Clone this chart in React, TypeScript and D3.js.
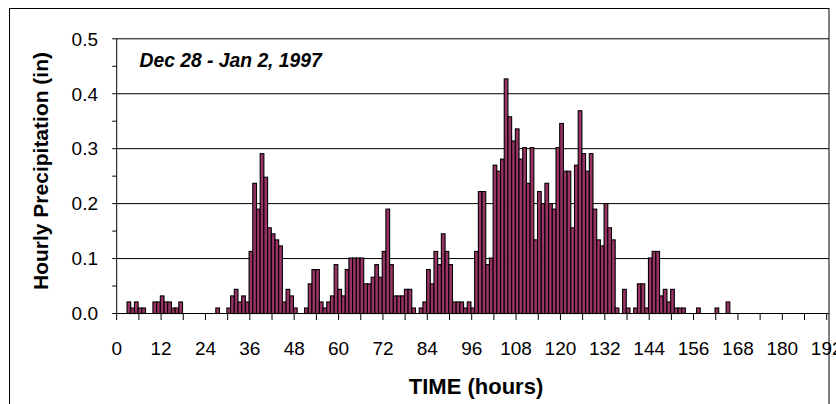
import React from "react";
import * as d3 from "d3";

const hours: number[] = [
  3, 4, 5, 6, 7, 10, 11, 12, 13, 14, 15, 16, 17, 27, 30, 31, 32, 33, 34, 35,
  36, 37, 38, 39, 40, 41, 42, 43, 44, 45, 46, 47, 48, 51, 52, 53, 54, 55, 56, 57,
  58, 59, 60, 61, 62, 63, 64, 65, 66, 67, 68, 69, 70, 71, 72, 73, 74, 75, 76, 77,
  78, 79, 80, 82, 83, 84, 85, 86, 87, 88, 89, 90, 91, 92, 93, 94, 95, 96, 97, 98,
  99, 100, 101, 102, 103, 104, 105, 106, 107, 108, 109, 110, 111, 112, 113, 114, 115, 116, 117, 118,
  119, 120, 121, 122, 123, 124, 125, 126, 127, 128, 129, 130, 131, 132, 133, 134, 135, 137, 138, 140,
  141, 142, 143, 144, 145, 146, 147, 148, 149, 150, 151, 152, 153, 157, 162, 165,
];

const precip: number[] = [
  0.021, 0.01, 0.021, 0.01, 0.01, 0.021, 0.021, 0.032, 0.021, 0.021, 0.01, 0.01, 0.021, 0.01, 0.01, 0.032, 0.044, 0.021, 0.032, 0.021,
  0.113, 0.237, 0.19, 0.291, 0.248, 0.156, 0.145, 0.134, 0.123, 0.021, 0.044, 0.032, 0.01, 0.01, 0.054, 0.08, 0.08, 0.021, 0.01, 0.021,
  0.032, 0.089, 0.044, 0.032, 0.08, 0.101, 0.101, 0.101, 0.101, 0.054, 0.054, 0.066, 0.089, 0.066, 0.113, 0.19, 0.089, 0.032, 0.032, 0.032,
  0.044, 0.044, 0.01, 0.01, 0.021, 0.08, 0.054, 0.113, 0.089, 0.145, 0.113, 0.089, 0.021, 0.021, 0.021, 0.01, 0.021, 0.01, 0.113, 0.222,
  0.222, 0.089, 0.101, 0.27, 0.259, 0.281, 0.427, 0.358, 0.314, 0.336, 0.281, 0.302, 0.237, 0.302, 0.134, 0.222, 0.2, 0.237, 0.2, 0.19,
  0.302, 0.346, 0.259, 0.259, 0.156, 0.27, 0.369, 0.291, 0.259, 0.291, 0.19, 0.134, 0.123, 0.2, 0.156, 0.134, 0.01, 0.044, 0.01, 0.01,
  0.054, 0.054, 0.01, 0.101, 0.113, 0.113, 0.032, 0.044, 0.021, 0.044, 0.01, 0.01, 0.01, 0.01, 0.01, 0.021,
];

const xTickValues: number[] = d3.range(0, 193, 6);
const xLabelValues: number[] = d3.range(0, 193, 12);
const yTickValues: number[] = d3.range(0, 0.5001, 0.05);
const yLabelValues: number[] = [0, 0.1, 0.2, 0.3, 0.4, 0.5];
const yGridValues: number[] = [0.1, 0.2, 0.3, 0.4];

const xTitle = "TIME (hours)";
const yTitle = "Hourly Precipitation (in)";
const note = "Dec 28 - Jan 2, 1997";

const FONT = "'Liberation Sans', Arial, sans-serif";

export default function App() {
  const left = 116.7;
  const right = 829;
  const top = 38.8;
  const bottom = 313.5;
  const x = d3.scaleLinear().domain([0, 192]).range([left, 826.7]);
  const y = d3.scaleLinear().domain([0, 0.5]).range([bottom, top]);
  const step = x(1) - x(0);
  const barColor = "#993366";

  return (
    <svg
      width={836}
      height={404}
      style={{ position: "absolute", left: 0, top: 0, background: "#fff" }}
    >
      <rect x={0} y={0} width={836} height={404} fill="#fff" />
      {/* outer chart border */}
      <rect x={9.5} y={8.5} width={819.5} height={410} fill="none" stroke="#000" strokeWidth={1} />

      {/* gridlines */}
      {yGridValues.map((v) => (
        <line key={"g" + v} x1={left} x2={right} y1={y(v)} y2={y(v)} stroke="#000" strokeWidth={1} />
      ))}
      <line x1={left} x2={right} y1={y(0.5)} y2={y(0.5)} stroke="#000" strokeWidth={1} />

      {/* bars */}
      {hours.map((h, i) => (
        <rect
          key={"b" + h}
          x={x(h - 0.2)}
          y={y(precip[i])}
          width={step}
          height={y(0) - y(precip[i])}
          fill={barColor}
          stroke="#000"
          strokeWidth={1.1}
        />
      ))}

      {/* y axis */}
      <line x1={left} x2={left} y1={top} y2={bottom} stroke="#000" strokeWidth={1} />
      {yTickValues.map((v) => (
        <line key={"yt" + v} x1={left - 4.5} x2={left} y1={y(v)} y2={y(v)} stroke="#000" strokeWidth={1} />
      ))}
      {yLabelValues.map((v) => (
        <text
          key={"yl" + v}
          x={98}
          y={y(v) + 6.8}
          textAnchor="end"
          fontFamily={FONT}
          fontSize={19}
          fill="#000"
        >
          {v.toFixed(1)}
        </text>
      ))}

      {/* x axis */}
      <line x1={left} x2={right} y1={bottom} y2={bottom} stroke="#000" strokeWidth={1} />
      {xTickValues.map((v) => (
        <line key={"xt" + v} x1={x(v)} x2={x(v)} y1={bottom} y2={bottom + 6.5} stroke="#000" strokeWidth={1} />
      ))}
      {xLabelValues.map((v) => (
        <text
          key={"xl" + v}
          x={x(v)}
          y={354.5}
          textAnchor="middle"
          fontFamily={FONT}
          fontSize={19}
          fill="#000"
        >
          {v}
        </text>
      ))}

      {/* titles */}
      <text x={476} y={393.5} textAnchor="middle" fontFamily={FONT} fontSize={22} fontWeight="bold" fill="#000">
        {xTitle}
      </text>
      <text
        transform="translate(48,171) rotate(-90)"
        textAnchor="middle"
        fontFamily={FONT}
        fontSize={21}
        fontWeight="bold"
        fill="#000"
      >
        {yTitle}
      </text>
      <text x={139.5} y={66.7} fontFamily={FONT} fontSize={19.3} fontWeight="bold" fontStyle="italic" fill="#000">
        {note}
      </text>
    </svg>
  );
}
